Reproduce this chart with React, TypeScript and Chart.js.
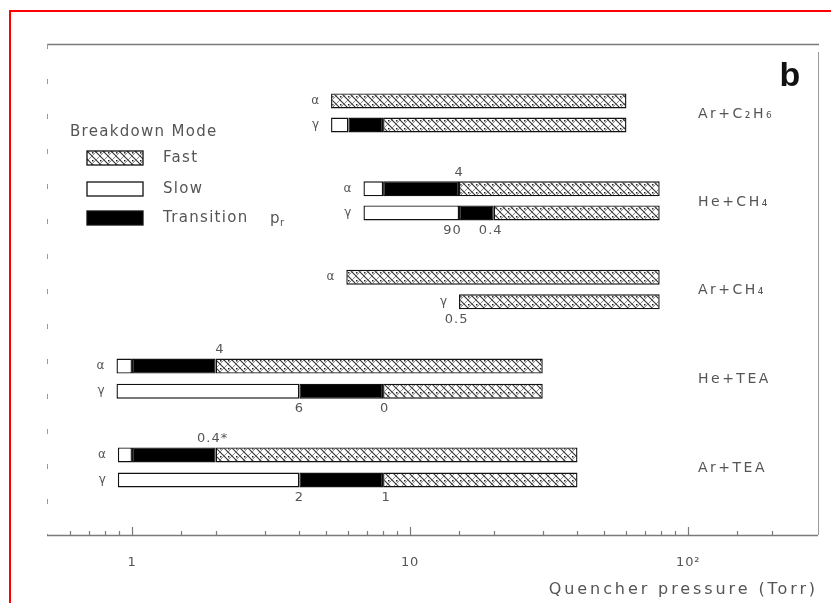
import React, { useEffect, useRef } from 'react';
import { Chart, registerables } from 'chart.js';

Chart.register(...registerables);

// ---------- data ----------
const xMin = 0.495;
const xMax = 293;
const yMin = 0;
const yMax = 10;

const rowLabels = ['α', 'γ', 'α', 'γ', 'α', 'γ', 'α', 'γ', 'α', 'γ'];
const rowY = [1.16, 1.65, 2.95, 3.44, 4.75, 5.25, 6.56, 7.07, 8.37, 8.88];
const groupNames = ['Ar+C₂H₆', 'He+CH₄', 'Ar+CH₄', 'He+TEA', 'Ar+TEA'];

const slowRanges: (number[] | null)[] = [null, [5.2, 6], [6.8, 8], [6.8, 15], null, null, [0.88, 1], [0.88, 4], [0.89, 1], [0.89, 4]];
const transitionRanges: (number[] | null)[] = [null, [6, 8], [8, 15], [15, 20], null, null, [1, 2], [4, 8], [1, 2], [4, 8]];
const fastRanges: (number[] | null)[] = [[5.2, 60], [8, 60], [15, 79], [20, 79], [5.9, 79], [15, 79], [2, 30], [8, 30], [2, 40], [8, 40]];

const annotationTexts = ['4', '90', '0.4', '0.5', '4', '6', '0', '0.4*', '2', '1'];
const annotationX = [15, 14.2, 19.5, 14.7, 2.07, 4, 8.1, 1.95, 4, 8.2];
const annotationRow = [2, 3, 3, 5, 6, 7, 7, 8, 9, 9];
const annotationSide = ['above', 'below', 'below', 'below', 'above', 'below', 'below', 'above', 'below', 'below'];

const legendTitle = 'Breakdown Mode';
const legendLabels = ['Fast', 'Slow', 'Transition'];

const tickValues = [1, 10, 100];
const tickTexts = ['1', '10', '10²'];

const xTitle = 'Quencher pressure (Torr)';
const panelLetter = 'b';

const FONT = '"DejaVu Sans", "Liberation Sans", sans-serif';
const TEXT = '#555';

function makeHatch(ctx: CanvasRenderingContext2D): CanvasPattern | string {
  const s = 8;
  const c = document.createElement('canvas');
  c.width = s;
  c.height = s;
  const g = c.getContext('2d');
  if (!g) return '#bbb';
  g.fillStyle = '#fff';
  g.fillRect(0, 0, s, s);
  g.strokeStyle = '#333';
  g.lineWidth = 1.1;
  for (const o of [-s, 0, s]) {
    g.beginPath();
    g.moveTo(o, 0);
    g.lineTo(o + s, s);
    g.stroke();
  }
  g.strokeStyle = '#777';
  g.lineWidth = 0.9;
  for (const o of [-s, 0, s]) {
    g.beginPath();
    g.moveTo(o + s, 0);
    g.lineTo(o, s);
    g.stroke();
  }
  g.fillStyle = '#222';
  g.fillRect(4, 0, 1.5, 1.5);
  return ctx.createPattern(c, 'repeat') || '#bbb';
}

function toPoints(ranges: (number[] | null)[]) {
  const out: { x: number[]; y: number }[] = [];
  ranges.forEach((r, i) => {
    if (r) out.push({ x: r, y: rowY[i] });
  });
  return out;
}

function rowStart(i: number): number {
  const vals = [slowRanges[i], transitionRanges[i], fastRanges[i]].filter(Boolean).map((r) => (r as number[])[0]);
  return Math.min(...vals);
}

const decorPlugin = {
  id: 'decor',
  beforeDraw(chart: any) {
    // spacing for the axis title (drawn with the grid layer)
    chart.ctx.letterSpacing = '2.9px';
  },
  beforeDatasetsDraw(chart: any) {
    // tighter spacing for the tick labels (drawn after the datasets)
    chart.ctx.letterSpacing = '0.8px';
  },
  afterDraw(chart: any) {
    const ctx: CanvasRenderingContext2D = chart.ctx;
    const xs = chart.scales.x;
    const ys = chart.scales.y;
    const { left, right, top, bottom } = chart.chartArea;
    const seg = (x1: number, y1: number, x2: number, y2: number) => {
      ctx.beginPath();
      ctx.moveTo(x1, y1);
      ctx.lineTo(x2, y2);
      ctx.stroke();
    };
    const txt = (s: string, x: number, y: number, font: string, align: CanvasTextAlign = 'left', spacing = '0px', color = TEXT) => {
      ctx.font = font;
      (ctx as any).letterSpacing = spacing;
      ctx.textAlign = align;
      ctx.textBaseline = 'middle';
      ctx.fillStyle = color;
      ctx.fillText(s, x, y);
    };
    ctx.save();

    // red outer border of the picture
    ctx.fillStyle = '#ff0000';
    ctx.fillRect(9, 10, chart.width - 9, 2);
    ctx.fillRect(9, 10, 2, chart.height - 10);

    // frame
    ctx.strokeStyle = '#7a7a7a';
    ctx.lineWidth = 1.3;
    seg(left, top + 0.5, right + 1, top + 0.5);
    ctx.strokeStyle = '#9a9a9a';
    ctx.lineWidth = 1;
    seg(right + 0.5, top + 8, right + 0.5, bottom);
    ctx.setLineDash([5, 30]);
    seg(left + 0.5, top, left + 0.5, bottom);
    ctx.setLineDash([]);
    ctx.strokeStyle = '#7a7a7a';
    ctx.lineWidth = 1.3;
    seg(left, bottom + 0.5, right, bottom + 0.5);

    // inward tick marks
    ctx.lineWidth = 1.2;
    xs.ticks.forEach((t: any) => {
      const v = t.value;
      const px = xs.getPixelForValue(v);
      if (px <= left + 1 || px >= right - 1) return;
      const lg = Math.log10(v);
      const major = Math.abs(lg - Math.round(lg)) < 1e-6;
      seg(Math.round(px) + 0.5, bottom, Math.round(px) + 0.5, bottom - (major ? 8 : 4));
    });

    // legend
    const ds = chart.data.datasets;
    const fills = legendLabels.map((l) => {
      const d = ds.find((x: any) => x.label === l);
      return d ? d.backgroundColor : '#fff';
    });
    txt(legendTitle, 70, 132, `15px ${FONT}`, 'left', '1.3px');
    const legendY = [158, 189, 218];
    legendLabels.forEach((l, i) => {
      const cy = legendY[i];
      ctx.fillStyle = fills[i];
      ctx.fillRect(87, cy - 7, 56, 14);
      ctx.strokeStyle = '#111';
      ctx.lineWidth = 1.3;
      ctx.strokeRect(87, cy - 7, 56, 14);
      txt(l, 163, cy, `15px ${FONT}`, 'left', '1.3px');
    });
    txt('p', 270, legendY[2] + 1, `15px ${FONT}`, 'left', '0px');
    txt('r', 280, legendY[2] + 5, `10px ${FONT}`, 'left', '0px');

    // row labels
    rowLabels.forEach((l, i) => {
      const px = xs.getPixelForValue(rowStart(i));
      const py = ys.getPixelForValue(rowY[i]);
      txt(l, px - 12, py, `12px ${FONT}`, 'right');
    });

    // group labels
    groupNames.forEach((g, gi) => {
      const py = (ys.getPixelForValue(rowY[2 * gi]) + ys.getPixelForValue(rowY[2 * gi + 1])) / 2 + 1;
      txt(g, 698, py, `14px ${FONT}`, 'left', '2.5px');
    });

    // annotations
    annotationTexts.forEach((a, i) => {
      const px = xs.getPixelForValue(annotationX[i]);
      const py = ys.getPixelForValue(rowY[annotationRow[i]]);
      const y = annotationSide[i] === 'above' ? py - 16.5 : py + 17.5;
      txt(a, px, y, `13px ${FONT}`, 'center', '1px');
    });

    // panel letter
    ctx.font = 'bold 34px "Liberation Sans", Arial, sans-serif';
    (ctx as any).letterSpacing = '0px';
    ctx.textAlign = 'center';
    ctx.textBaseline = 'alphabetic';
    ctx.fillStyle = '#111';
    ctx.fillText(panelLetter, 790, 86);

    ctx.restore();
  },
};

export default function App() {
  const ref = useRef<HTMLCanvasElement>(null);
  useEffect(() => {
    const canvas = ref.current;
    if (!canvas) return;
    const ctx = canvas.getContext('2d');
    if (!ctx) return;
    const hatch = makeHatch(ctx);
    const common = {
      borderColor: '#111',
      borderWidth: 1.4,
      borderSkipped: false,
      grouped: false,
      maxBarThickness: 15,
    };
    const chart = new Chart(canvas, {
      type: 'bar',
      data: {
        datasets: [
          { label: 'Fast', data: toPoints(fastRanges), backgroundColor: hatch, ...common },
          { label: 'Slow', data: toPoints(slowRanges), backgroundColor: '#ffffff', ...common },
          { label: 'Transition', data: toPoints(transitionRanges), backgroundColor: '#000000', ...common },
        ] as any,
      },
      options: {
        indexAxis: 'y',
        animation: false,
        responsive: false,
        devicePixelRatio: 1,
        layout: { padding: { left: 47, right: 13, top: 44, bottom: 0 } },
        scales: {
          x: {
            type: 'logarithmic',
            min: xMin,
            max: xMax,
            position: 'bottom',
            offset: false,
            grid: { display: false, drawTicks: true, tickLength: 18 },
            border: { display: false },
            afterFit: (scale: any) => {
              scale.height = 68;
              scale.paddingLeft = 0;
              scale.paddingRight = 0;
            },
            ticks: {
              z: 1,
              autoSkip: false,
              maxRotation: 0,
              padding: 2,
              color: TEXT,
              font: { family: FONT, size: 13 },
              callback: (value: any) => {
                const v = Number(value);
                const idx = tickValues.findIndex((t) => Math.abs(t - v) < 1e-9 * t);
                return idx >= 0 ? tickTexts[idx] : '';
              },
            },
            title: {
              display: true,
              text: xTitle,
              align: 'end',
              color: TEXT,
              font: { family: FONT, size: 16 },
              padding: { top: 0, bottom: 4 },
            },
          },
          y: {
            type: 'linear',
            min: yMin,
            max: yMax,
            reverse: true,
            offset: false,
            display: false,
          },
        },
        plugins: {
          legend: { display: false },
          tooltip: { enabled: false },
        },
      } as any,
      plugins: [decorPlugin as any],
    });
    return () => chart.destroy();
  }, []);
  return (
    <div style={{ position: 'absolute', left: 0, top: 0, width: 831, height: 603, background: '#fff' }}>
      <canvas ref={ref} width={831} height={603} style={{ display: 'block' }} />
    </div>
  );
}
